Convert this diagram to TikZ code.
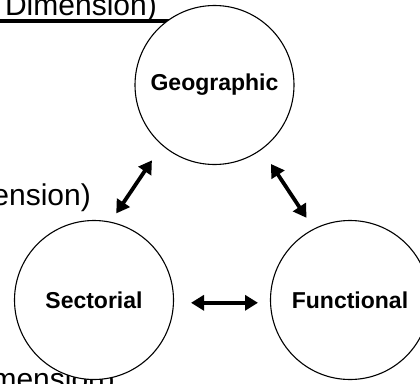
\documentclass[tikz,border=0pt]{standalone}
\usepackage{fontspec}
\setmainfont{Liberation Sans}
\usetikzlibrary{arrows.meta}
\begin{document}
\begin{tikzpicture}[x=1pt,y=-1pt,
  dimtext/.style={font=\fontsize{30}{30}\selectfont, inner sep=0pt},
  sphere/.style={circle, draw, line width=1.1pt, fill=white, minimum size=159pt,
    inner sep=0pt, font=\fontsize{23}{23}\selectfont\bfseries},
  link/.style={line width=3.8pt,
    {Triangle[length=13pt,width=15pt]}-{Triangle[length=13pt,width=15pt]}}]
\useasboundingbox (0,0) rectangle (420,383);
\clip (0,0) rectangle (420,383);
% dimension captions, partly hidden behind the circles
\node[dimtext, anchor=base east] (dimtop) at (157,15) {Dimension)};
\coordinate (ulstart) at (0,20.5);
\coordinate (ulend) at (178,20.5);
\draw[line width=4pt] (ulstart) -- (ulend);
\node[dimtext, anchor=base east] (dimmid) at (91,205) {Dimension)};
\node[dimtext, anchor=base west] (dimlow) at (-37,389) {Dimension)};
% the three dimensions
\node[sphere] (geo) at (214.5,85) {Geographic};
\node[sphere] (sect) at (94,300) {Sectorial};
\node[sphere] (func) at (350,300) {Functional};
% links between them
\draw[link, shorten <=10pt, shorten >=18pt] (sect.78) -- (geo.229);
\draw[link, shorten <=17pt, shorten >=13pt] (geo.306) -- (func.117);
\draw[link, shorten <=17pt, shorten >=12pt] (sect.358) -- (func.182);
\end{tikzpicture}
\end{document}
